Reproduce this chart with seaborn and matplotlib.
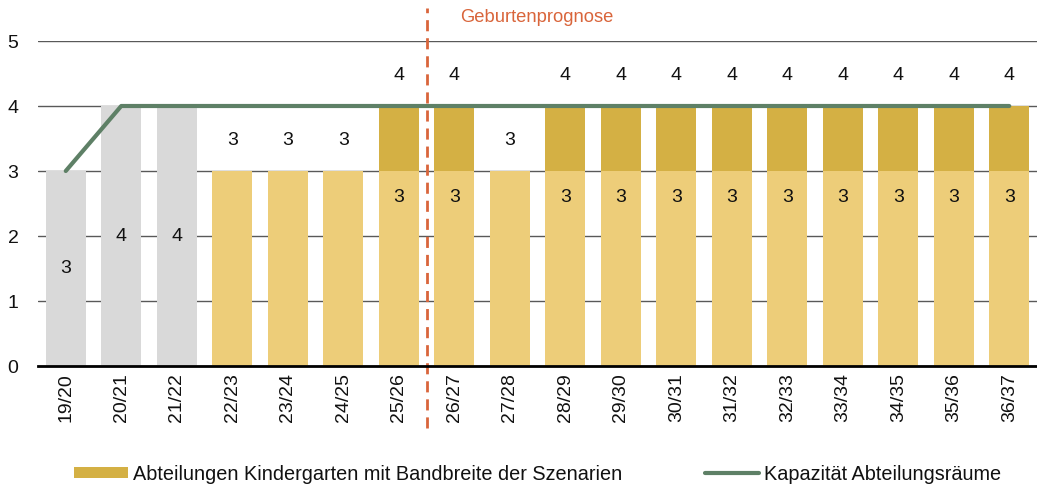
import numpy as np
import pandas as pd
import matplotlib
matplotlib.use("Agg")
import matplotlib.pyplot as plt
import seaborn as sns
from matplotlib.patches import Patch
from matplotlib.lines import Line2D

sns.set_theme(style="white")
plt.rcParams['font.family'] = ['Liberation Sans', 'DejaVu Sans']

categories = ["19/20", "20/21", "21/22", "22/23", "23/24", "24/25", "25/26", "26/27",
              "27/28", "28/29", "29/30", "30/31", "31/32", "32/33", "33/34", "34/35",
              "35/36", "36/37"]
actual_cats = ["19/20", "20/21", "21/22"]
actual_values = [3, 4, 4]
scenario_cats = ["22/23", "23/24", "24/25", "25/26", "26/27", "27/28", "28/29", "29/30",
                 "30/31", "31/32", "32/33", "33/34", "34/35", "35/36", "36/37"]
scenario_low = [3, 3, 3, 3, 3, 3, 3, 3, 3, 3, 3, 3, 3, 3, 3]
scenario_high = [3, 3, 3, 4, 4, 3, 4, 4, 4, 4, 4, 4, 4, 4, 4]
capacity = [3, 4, 4, 4, 4, 4, 4, 4, 4, 4, 4, 4, 4, 4, 4, 4, 4, 4]
forecast_start = "26/27"

GRAY = "#D9D9D9"
LIGHT = "#EDCD79"
DARK = "#D4B044"
GREEN = "#5E8066"
ORANGE = "#D9653B"
TXT = "#111111"
FS = 14

fig = plt.figure(figsize=(10.37, 4.9), dpi=100)
ax = fig.add_axes([38/1037, 124/490, 999/1037, 325/490])

df_act = pd.DataFrame({"cat": actual_cats, "val": actual_values})
df_sc = pd.DataFrame({"cat": scenario_cats, "low": scenario_low, "high": scenario_high})

bar_kw = dict(order=categories, width=0.72, saturation=1, ax=ax, zorder=2,
              linewidth=0, edgecolor="none")
sns.barplot(data=df_act, x="cat", y="val", color=GRAY, **bar_kw)
sns.barplot(data=df_sc, x="cat", y="high", color=DARK, **bar_kw)
sns.barplot(data=df_sc, x="cat", y="low", color=LIGHT, **bar_kw)

xs = np.arange(len(categories))
sns.lineplot(x=xs, y=capacity, color=GREEN, linewidth=3, ax=ax, zorder=4)

# labels
for c, v in zip(actual_cats, actual_values):
    i = categories.index(c)
    ax.text(i, v / 2, str(v), ha="center", va="center", fontsize=FS, color=TXT, zorder=5)
for c, lo, hi in zip(scenario_cats, scenario_low, scenario_high):
    i = categories.index(c)
    if hi > lo:
        ax.text(i, lo - 0.4, str(lo), ha="center", va="center", fontsize=FS, color=TXT, zorder=5)
        ax.text(i, hi + 0.47, str(hi), ha="center", va="center", fontsize=FS, color=TXT, zorder=5)
    else:
        ax.text(i, lo + 0.47, str(lo), ha="center", va="center", fontsize=FS, color=TXT, zorder=5)

# forecast separator
fx = categories.index(forecast_start) - 0.5
ax.plot([fx, fx], [-0.95, 5.51], color=ORANGE, linestyle=(0, (4, 2.5)), linewidth=2,
        clip_on=False, zorder=6)
ax.text(fx + 0.6, 5.36, "Geburtenprognose", color=ORANGE, fontsize=13.2,
        ha="left", va="center")

ax.set_xlim(-0.5, len(categories) - 0.5)
ax.set_ylim(0, 5)
ax.set_yticks([0, 1, 2, 3, 4, 5])
ax.yaxis.grid(True, color="#595959", linewidth=1)
ax.set_axisbelow(True)
for s in ["top", "right", "left"]:
    ax.spines[s].set_visible(False)
ax.spines["bottom"].set_color("black")
ax.spines["bottom"].set_linewidth(2)
ax.spines["bottom"].set_zorder(7)
ax.set_xlabel("")
ax.set_ylabel("")
ax.tick_params(axis="x", rotation=90, labelsize=FS, length=0, pad=5, colors=TXT)
ax.tick_params(axis="y", labelsize=FS, length=0, pad=14, colors=TXT)

handles = [Patch(facecolor=DARK, edgecolor="none"),
           Line2D([0], [0], color=GREEN, linewidth=3)]
labels = ["Abteilungen Kindergarten mit Bandbreite der Szenarien", "Kapazität Abteilungsräume"]
leg = fig.legend(handles, labels, loc="center", bbox_to_anchor=(0.5 + 19/1037, 16/490), ncol=2,
                 frameon=False, fontsize=14.3, handlelength=2.7, handleheight=0.45,
                 handletextpad=0.25, columnspacing=4.2)
for t in leg.get_texts():
    t.set_color(TXT)

fig.savefig("out.png", dpi=100)
